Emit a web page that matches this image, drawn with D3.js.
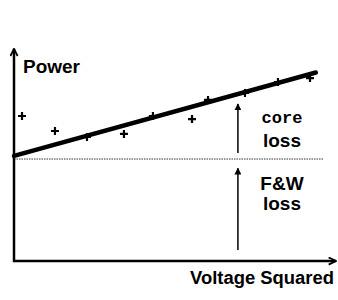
<!DOCTYPE html>
<html>
<head>
<meta charset="utf-8">
<script src="https://cdn.jsdelivr.net/npm/d3@7"></script>
<style>
  html, body { margin: 0; padding: 0; background: #fff; }
  svg { display: block; }
</style>
</head>
<body>
<div id="chart"></div>
<script>
// measured points (voltage squared vs power, arbitrary units 0..100)
const voltSq = [2.6, 13.3, 23.7, 35.7, 45.1, 57.8, 63.0, 75.0, 85.7, 96.1];
const power  = [70.4, 63.1, 60.2, 61.7, 70.4, 68.9, 78.2, 81.6, 86.9, 88.8];
// fitted line end points
const fitX = [0, 98];
const fitY = [51, 91.5];
const fwLevel = 49.5;
// loss arrows: [x, from, to]
const coreArrow = [72.7, 52.4, 76.2];
const fwArrow = [72.7, 5.3, 45];
const axisTitles = ['Power', 'Voltage Squared'];

const width = 338, height = 300;
const x = d3.scaleLinear().domain([0, 100]).range([14, 322]);
const y = d3.scaleLinear().domain([0, 100]).range([261, 55]);

const svg = d3.select('#chart').append('svg')
  .attr('width', width).attr('height', height);

const defs = svg.append('defs');
defs.append('marker')
  .attr('id', 'head').attr('viewBox', '0 0 10 10')
  .attr('refX', 9).attr('refY', 5)
  .attr('markerWidth', 7).attr('markerHeight', 7)
  .attr('markerUnits', 'userSpaceOnUse')
  .attr('orient', 'auto')
  .append('path').attr('d', 'M0,0L10,5L0,10Z').attr('fill', '#000');
defs.append('marker')
  .attr('id', 'chev').attr('viewBox', '0 0 10 10')
  .attr('refX', 9).attr('refY', 5)
  .attr('markerWidth', 9).attr('markerHeight', 9)
  .attr('markerUnits', 'userSpaceOnUse')
  .attr('orient', 'auto')
  .append('path').attr('d', 'M1,1L9,5L1,9')
  .attr('fill', 'none').attr('stroke', '#000').attr('stroke-width', 2);

// F&W level dotted line
svg.append('line')
  .attr('x1', x(0)).attr('x2', x(100.5))
  .attr('y1', y(fwLevel)).attr('y2', y(fwLevel))
  .attr('stroke', '#333').attr('stroke-width', 1)
  .attr('stroke-dasharray', '1.5,1');

// axes
svg.append('line')
  .attr('x1', x(0)).attr('y1', y(0) + 1)
  .attr('x2', x(0)).attr('y2', y(103))
  .attr('stroke', '#000').attr('stroke-width', 2.5)
  .attr('marker-end', 'url(#chev)');
svg.append('line')
  .attr('x1', x(0) - 1).attr('y1', y(0))
  .attr('x2', x(104.5)).attr('y2', y(0))
  .attr('stroke', '#000').attr('stroke-width', 2.5)
  .attr('marker-end', 'url(#chev)');

// fitted line
const line = d3.line().x(d => x(d[0])).y(d => y(d[1]));
svg.append('path')
  .datum(d3.zip(fitX, fitY))
  .attr('d', line)
  .attr('fill', 'none').attr('stroke', '#000')
  .attr('stroke-width', 4.5).attr('stroke-linecap', 'round');

// data markers
const pts = d3.zip(voltSq, power);
svg.selectAll('.pt')
  .data(pts)
  .enter()
  .append('path')
  .attr('class', 'pt')
  .attr('transform', d => `translate(${x(d[0])},${y(d[1])})`)
  .attr('d', 'M-4,0H4M0,-4V4')
  .attr('stroke', '#000').attr('stroke-width', 2.2);

// loss arrows
[coreArrow, fwArrow].forEach(a => {
  svg.append('line')
    .attr('x1', x(a[0])).attr('x2', x(a[0]))
    .attr('y1', y(a[1])).attr('y2', y(a[2]))
    .attr('stroke', '#000').attr('stroke-width', 1.5)
    .attr('marker-end', 'url(#head)');
});

// labels
const sans = 'Liberation Sans, Arial, sans-serif';
svg.append('text')
  .attr('x', 23).attr('y', 73)
  .attr('font-family', sans).attr('font-weight', 'bold').attr('font-size', 18)
  .attr('textLength', 57).attr('lengthAdjust', 'spacingAndGlyphs')
  .text(axisTitles[0]);
svg.append('text')
  .attr('x', 190).attr('y', 284)
  .attr('font-family', sans).attr('font-weight', 'bold').attr('font-size', 18)
  .attr('textLength', 144).attr('lengthAdjust', 'spacingAndGlyphs')
  .text(axisTitles[1]);

svg.append('text')
  .attr('x', 282).attr('y', 123).attr('text-anchor', 'middle')
  .attr('font-family', 'Liberation Mono, Courier New, monospace')
  .attr('font-weight', 'bold').attr('font-size', 17)
  .text('core');
svg.append('text')
  .attr('x', 282).attr('y', 147).attr('text-anchor', 'middle')
  .attr('font-family', sans).attr('font-weight', 'bold').attr('font-size', 19)
  .text('loss');
svg.append('text')
  .attr('x', 282).attr('y', 190).attr('text-anchor', 'middle')
  .attr('font-family', sans).attr('font-weight', 'bold').attr('font-size', 19)
  .text('F&W');
svg.append('text')
  .attr('x', 282).attr('y', 210).attr('text-anchor', 'middle')
  .attr('font-family', sans).attr('font-weight', 'bold').attr('font-size', 19)
  .text('loss');
</script>
</body>
</html>
